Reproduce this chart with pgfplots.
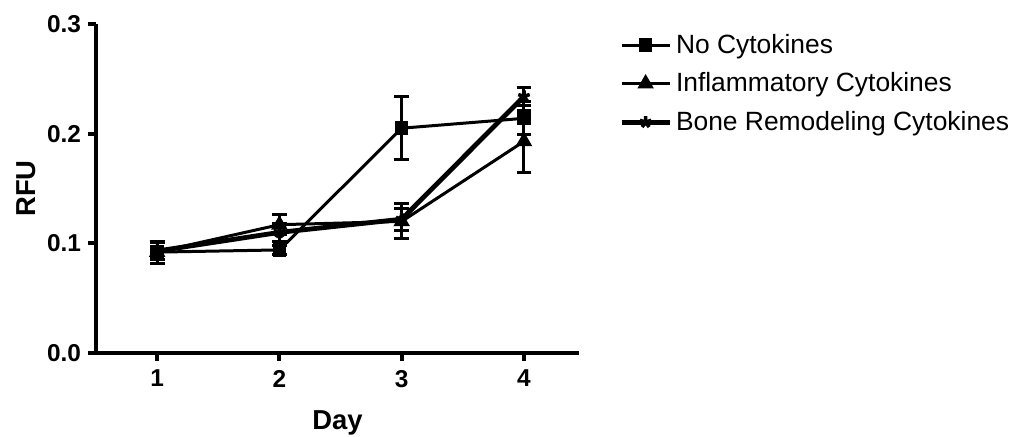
\documentclass[border=0pt]{standalone}
\usepackage{pgfplots}
\pgfplotsset{compat=1.18}
\usepackage{fontspec}
\setmainfont{Liberation Sans}
\begin{document}
\begin{tikzpicture}[x=1pt,y=1pt]
\useasboundingbox (0,0) rectangle (507.5,218);
\begin{axis}[
  at={(48pt,41.5pt)}, anchor=origin,
  scale only axis, width=241.5pt, height=164.5pt,
  xmin=0.5, xmax=4.45, ymin=0, ymax=0.3,
  axis lines=left, axis line style={-, line width=2pt},
  xtick={1,2,3,4}, ytick={0,0.1,0.2,0.3},
  yticklabel style={/pgf/number format/.cd, fixed, fixed zerofill, precision=1},
  /pgf/number format/assume math mode=true,
  tick align=outside, major tick length=4pt,
  tick style={line width=2pt, black},
  ticklabel style={font=\fontsize{12.2}{14}\selectfont\bfseries},
  xticklabel style={yshift=-1pt},
  xlabel={Day}, ylabel={RFU},
  label style={font=\fontsize{13.7}{16}\selectfont\bfseries},
  xlabel style={at={(axis description cs:0.5,0)}, anchor=north, yshift=-25.5pt},
  ylabel style={at={(axis description cs:0,0.5)}, anchor=south, yshift=26.5pt},
  every axis plot/.append style={black},
  error bars/error bar style={line width=1.5pt, black},
  error bars/error mark options={rotate=90, mark size=3.7pt, line width=1.5pt, black},
  legend style={at={(1.07,0.995)}, anchor=north west, draw=none, fill=none,
    font=\fontsize{13.2}{15}\selectfont, row sep=4.2pt,
    nodes={inner sep=2pt}},
  legend cell align=left,
  legend image code/.code={\draw[mark repeat=2,mark phase=2,#1] plot coordinates {(0pt,0pt) (12pt,0pt) (24pt,0pt)};},
  clip=false,
]
\addplot[black, line width=1.5pt, mark=square*, mark size=2.6pt,
  error bars/.cd, y dir=both, y explicit]
  table[x=x, y=y, y error=e] {
x y e
1 0.092 0.010
2 0.094 0.004
3 0.205 0.029
4 0.214 0.015
};
\addlegendentry{No Cytokines}
\addplot[black, line width=1.5pt, mark=triangle*, mark size=3.3pt,
  error bars/.cd, y dir=both, y explicit]
  table[x=x, y=y, y error=e] {
x y e
1 0.092 0.010
2 0.117 0.009
3 0.120 0.016
4 0.193 0.028
};
\addlegendentry{Inflammatory Cytokines}
\addplot[black, line width=2.4pt, mark=star, mark size=3pt, mark options={line width=1.8pt},
  error bars/.cd, y dir=both, y explicit]
  table[x=x, y=y, y error=e] {
x y e
1 0.093 0.008
2 0.110 0.008
3 0.122 0.010
4 0.234 0.008
};
\addlegendentry{Bone Remodeling Cytokines}
\end{axis}
\end{tikzpicture}
\end{document}
